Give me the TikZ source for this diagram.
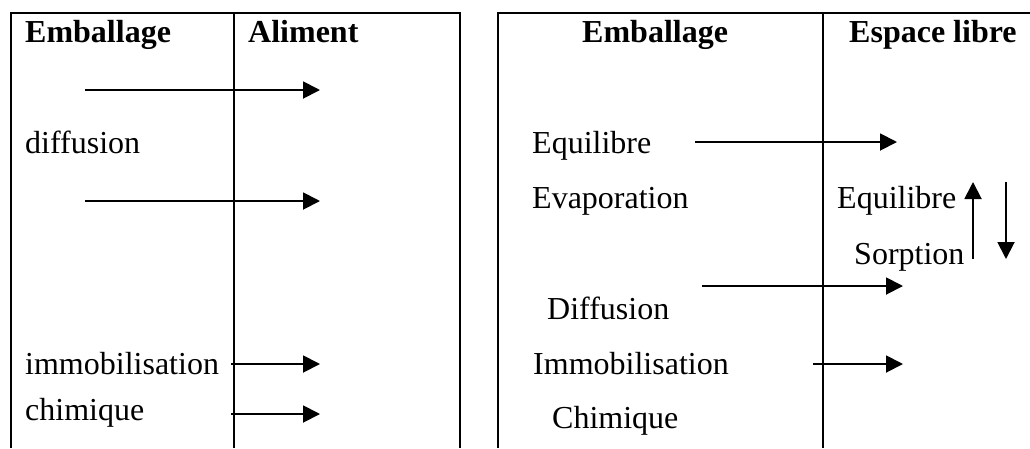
\documentclass[tikz,border=0pt]{standalone}
\usepackage{fontspec}
\setmainfont{Liberation Serif}
\usetikzlibrary{arrows.meta, positioning}
\tikzset{
    >=Latex,
    tab_line/.style={
        line width=1.8pt
    },
    tab_head/.style={
        anchor=base west,
        inner sep=0pt,
        font=\fontsize{32}{38}\selectfont\bfseries
    },
    tab_text/.style={
        anchor=base west,
        inner sep=0pt,
        font=\fontsize{32}{38}\selectfont
    },
    flow_arrow/.style={
        -{Triangle[length=17pt, width=17pt]},
        line width=1.9pt
    }
}

\begin{document}
\begin{tikzpicture}[x=1pt, y=-1pt]
\useasboundingbox (0,0) rectangle (1030,448);

% --- Left table (Emballage / Aliment) ---
\draw[tab_line] (11,448) |- (460,13) -- (460,448);
\draw[tab_line] (234,13) -- (234,448);

\node[tab_head] (EmbLeft) at (25,42) {Emballage};
\node[tab_head] (Aliment) at (248,42) {Aliment};
\node[tab_text] (DiffLeft) at (25,153) {diffusion};
\node[tab_text] (ImmoLeft) at (25,374) {immobilisation};
\node[tab_text] (ChimLeft) at (25,420) {chimique};

\coordinate (L1_start) at (85,90);   \coordinate (L1_end) at (320,90);
\coordinate (L2_start) at (85,201);  \coordinate (L2_end) at (320,201);
\coordinate (L3_start) at (231,364); \coordinate (L3_end) at (320,364);
\coordinate (L4_start) at (231,414); \coordinate (L4_end) at (320,414);

\draw[flow_arrow] (L1_start) -- (L1_end);
\draw[flow_arrow] (L2_start) -- (L2_end);
\draw[flow_arrow] (L3_start) -- (L3_end);
\draw[flow_arrow] (L4_start) -- (L4_end);

% --- Right table (Emballage / Espace libre) ---
\draw[tab_line] (498,448) |- (1030,13);
\draw[tab_line] (823,13) -- (823,448);

\node[tab_head] (EmbRight) at (582,42) {Emballage};
\node[tab_head] (Espace) at (849,42) {Espace libre};
\node[tab_text] (EquiPack) at (532,153) {Equilibre};
\node[tab_text] (Evap) at (532,208) {Evaporation};
\node[tab_text] (DiffRight) at (547,319) {Diffusion};
\node[tab_text] (ImmoRight) at (533,374) {Immobilisation};
\node[tab_text] (ChimRight) at (552,428) {Chimique};
\node[tab_text] (EquiSpace) at (837,208) {Equilibre};
\node[tab_text] (Sorption) at (854,264) {Sorption};

\coordinate (R1_start) at (695,142);  \coordinate (R1_end) at (897,142);
\coordinate (R2_start) at (702,286);  \coordinate (R2_end) at (903,286);
\coordinate (R3_start) at (813,364);  \coordinate (R3_end) at (903,364);
\coordinate (Up_start) at (973,259);  \coordinate (Up_end) at (973,182);
\coordinate (Dn_start) at (1006,182); \coordinate (Dn_end) at (1006,259);

\draw[flow_arrow] (R1_start) -- (R1_end);
\draw[flow_arrow] (R2_start) -- (R2_end);
\draw[flow_arrow] (R3_start) -- (R3_end);
\draw[flow_arrow] (Up_start) -- (Up_end);
\draw[flow_arrow] (Dn_start) -- (Dn_end);

\end{tikzpicture}
\end{document}
